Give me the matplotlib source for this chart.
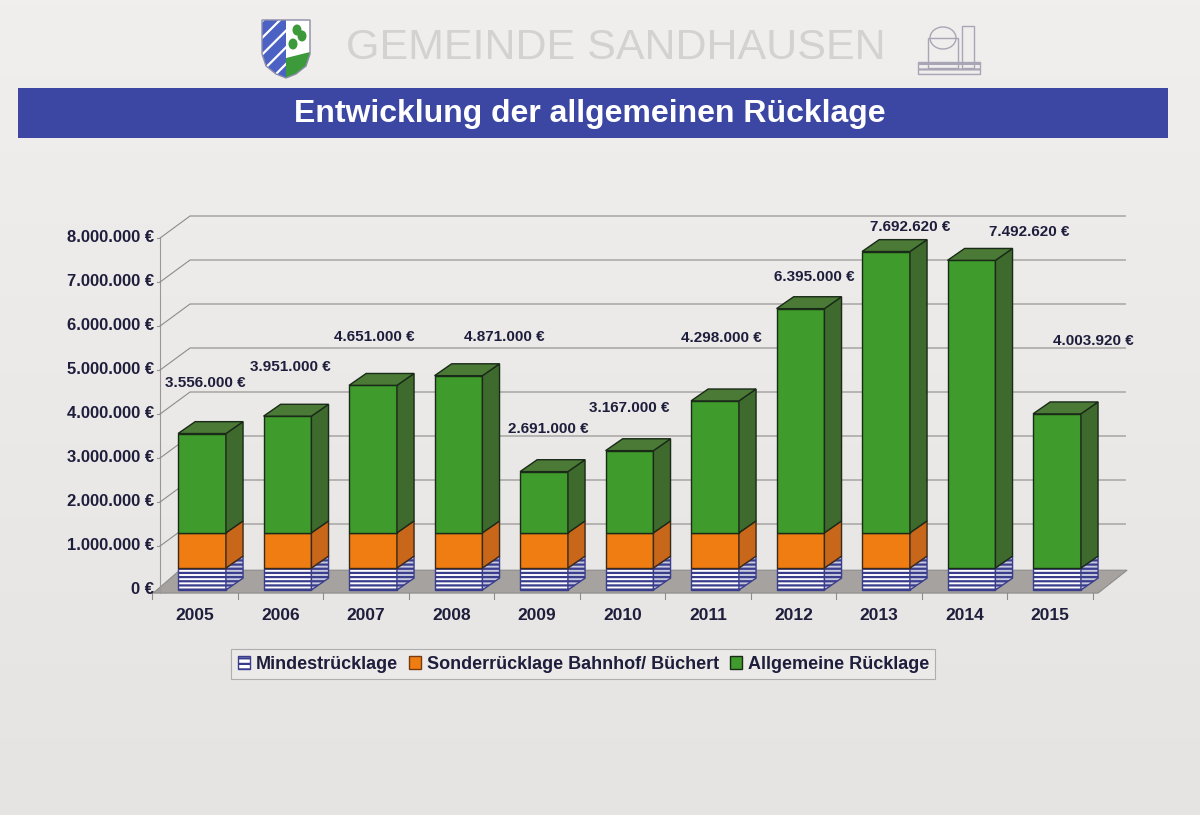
import numpy as np
import matplotlib.pyplot as plt
from matplotlib.patches import Rectangle, Polygon, Patch, Ellipse

# Daten (in Euro)
jahre = ['2005', '2006', '2007', '2008', '2009', '2010', '2011', '2012', '2013', '2014', '2015']
mindest = [500000, 500000, 500000, 500000, 500000, 500000, 500000, 500000, 500000, 500000, 500000]
sonder = [800000, 800000, 800000, 800000, 800000, 800000, 800000, 800000, 800000, 0, 0]
allgemein = [2256000, 2651000, 3351000, 3571000, 1391000, 1867000, 2998000, 5095000, 6392620, 6992620, 3503920]
gesamt = [3556000, 3951000, 4651000, 4871000, 2691000, 3167000, 4298000, 6395000, 7692620, 7492620, 4003920]
y_ticks = [0, 1000000, 2000000, 3000000, 4000000, 5000000, 6000000, 7000000, 8000000]

# Lage der Wertbeschriftungen (x-Versatz in Balken, y-Abstand in Mio.)
lbl_dx = [0.04, 0.03, 0.02, 0.54, 0.05, 0.0, 0.08, 0.16, 0.28, 0.68, 0.42]
lbl_dy = [1.15, 1.12, 1.10, 0.88, 0.97, 0.97, 1.43, 0.72, 0.56, 0.65, 1.66]

def euro(v):
    return f"{v:,}".replace(',', '.') + ' €'

plt.rcParams['font.family'] = ['Liberation Sans', 'DejaVu Sans']
plt.rcParams['hatch.linewidth'] = 1.6
txt = '#1e1e3c'

fig = plt.figure(figsize=(12, 8.15), dpi=100, facecolor='#ecebea')

# Hintergrund + Kopfzeile in Pixelkoordinaten
bg = fig.add_axes([0, 0, 1, 1])
bg.set_xlim(0, 1200)
bg.set_ylim(815, 0)
bg.axis('off')
grad = np.linspace(0, 1, 200)[:, None]
bg.imshow(grad, extent=[0, 1200, 815, 0], aspect='auto',
          cmap=plt.matplotlib.colors.LinearSegmentedColormap.from_list('g', ['#f0efee', '#e6e4e2']), zorder=0)
bg.add_patch(Rectangle((18, 88), 1150, 50, facecolor='#3b47a3', edgecolor='none', zorder=1))
bg.text(590, 114, 'Entwicklung der allgemeinen Rücklage', color='white', fontsize=23,
        fontweight='bold', ha='center', va='center', zorder=2)
bg.text(616, 48, 'GEMEINDE SANDHAUSEN', color='#d4d2d0', fontsize=31,
        ha='center', va='center', zorder=2)
# Wappen
bg.add_patch(Polygon([(262, 20), (286, 20), (286, 78), (276, 74), (266, 66), (262, 54)],
                     facecolor='#4b62c4', edgecolor='white', hatch='//', lw=0, zorder=2))
bg.add_patch(Polygon([(286, 20), (310, 20), (310, 54), (306, 66), (296, 74), (286, 78)],
                     facecolor='white', edgecolor='none', zorder=2))
bg.add_patch(Polygon([(286, 58), (310, 52), (310, 54), (306, 66), (296, 74), (286, 78)],
                     facecolor='#3d9a3a', edgecolor='none', zorder=3))
for cx, cy in [(293, 44), (302, 36), (297, 30)]:
    bg.add_patch(Ellipse((cx, cy), 9, 11, facecolor='#3d9a3a', edgecolor='none', zorder=3))
bg.add_patch(Polygon([(262, 20), (310, 20), (310, 54), (306, 66), (296, 74), (286, 78),
                      (276, 74), (266, 66), (262, 54)], fill=False, edgecolor='#8c8ca8', lw=1, zorder=4))
# Kirche (Skizze)
kc = '#a8a6b4'
bg.add_patch(Rectangle((928, 38), 30, 30, fill=False, edgecolor=kc, lw=1, zorder=2))
bg.add_patch(Ellipse((943, 38), 26, 22, fill=False, edgecolor=kc, lw=1, zorder=2))
bg.add_patch(Rectangle((962, 26), 12, 42, fill=False, edgecolor=kc, lw=1, zorder=2))
bg.add_patch(Rectangle((918, 62), 62, 12, fill=False, edgecolor=kc, hatch='---', lw=1, zorder=2))

# Diagramm
ax = fig.add_axes([0, 0, 1, 1])
ax.set_facecolor('none')
ax.set_xlim(-202 / 85.5, (1200 - 202) / 85.5)
ax.set_ylim((590 - 815) / 44, 590 / 44)
ax.axis('off')

n = len(jahre)
x = np.arange(n)
M = 1e6
wd_x, wd_y = 0.35, 0.5          # Tiefe der Rückwand
bw, dx, dy = 0.56, 0.2, 0.27    # Balkenbreite und Tiefe

# Boden
ax.add_patch(Polygon([(-0.57, -0.07), (10.48, -0.07), (10.82, 0.45), (-0.26, 0.45)],
                     facecolor='#a5a29f', edgecolor='#8e8c8a', lw=0.8, zorder=1))
for p in np.arange(-1, n) + 0.42:
    ax.plot([p, p], [-0.07, -0.2], color='#8e8c8a', lw=0.8, zorder=1)

# Achse und Gitter
ax.plot([-0.49, -0.49], [-0.07, y_ticks[-1] / M], color='#9a9896', lw=0.8, zorder=1)
for t in y_ticks:
    v = t / M
    ax.plot([-0.53, -0.49], [v, v], color='#9a9896', lw=0.8, zorder=1)
    if t > 0:
        ax.plot([-0.49, -0.49 + wd_x, 10.8], [v, v + wd_y, v + wd_y], color='#8e8c8a', lw=0.8, zorder=1)
    ax.text(-0.56, v, euro(t), ha='right', va='center', fontsize=12, fontweight='bold', color=txt)

segs = [
    (mindest, 'white', '#c6c8de', '#3a3d8c', '----'),
    (sonder, '#f07d12', '#c8661a', '#3a2a1a', None),
    (allgemein, '#3f9b2b', '#3e6a2e', '#1a2a18', None),
]
top_col = '#4a7a35'

for i in range(n):
    bottom = 0.0
    for vals, fc, sc, ec, hatch in segs:
        h = vals[i] / M
        if h <= 0:
            continue
        x0, x1 = x[i] - bw / 2, x[i] + bw / 2
        ax.add_patch(Rectangle((x0, bottom), bw, h, facecolor=fc, edgecolor=ec,
                               hatch=hatch, lw=1.0, zorder=3))
        ax.add_patch(Polygon([(x1, bottom), (x1 + dx, bottom + dy), (x1 + dx, bottom + h + dy), (x1, bottom + h)],
                             facecolor=sc, edgecolor=ec, hatch=hatch, lw=1.0, zorder=3))
        bottom += h
    x0, x1 = x[i] - bw / 2, x[i] + bw / 2
    ax.add_patch(Polygon([(x0, bottom), (x0 + dx, bottom + dy), (x1 + dx, bottom + dy), (x1, bottom)],
                         facecolor=top_col, edgecolor='#1a2a18', lw=1.0, zorder=3))
    ax.text(x[i] + lbl_dx[i], gesamt[i] / M + lbl_dy[i], euro(gesamt[i]), ha='center', va='center',
            fontsize=11, fontweight='bold', color=txt, zorder=4)
    ax.text(x[i] - 0.08, -0.57, jahre[i], ha='center', va='center', fontsize=12.5,
            fontweight='bold', color=txt)

handles = [
    Patch(facecolor='white', edgecolor='#3a3d8c', hatch='---'),
    Patch(facecolor='#f07d12', edgecolor='#7a3a10'),
    Patch(facecolor='#3f9b2b', edgecolor='#1a2a18'),
]
labels = ['Mindestrücklage', 'Sonderrücklage Bahnhof/ Büchert', 'Allgemeine Rücklage']
leg = fig.legend(handles, labels, loc='center', bbox_to_anchor=(0.486, 0.185), ncol=3,
                 frameon=True, fancybox=False, edgecolor='#a0a0a0', facecolor='#edeceb',
                 prop={'weight': 'bold', 'size': 13}, handlelength=0.7, handleheight=0.7,
                 handletextpad=0.3, columnspacing=0.6, borderpad=0.35, labelcolor=txt)
leg.get_frame().set_linewidth(0.8)

fig.savefig('out.png', dpi=100, facecolor=fig.get_facecolor())
